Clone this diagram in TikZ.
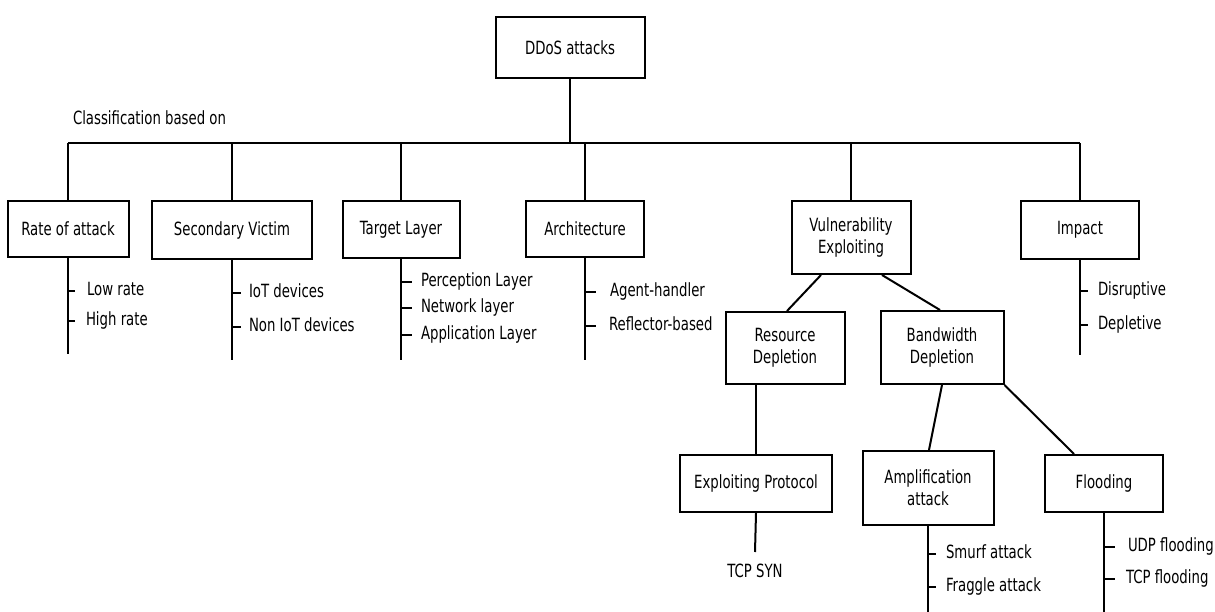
\documentclass[tikz,border=0pt]{standalone}
\usepackage{fontspec}
\setmainfont{DejaVu Sans}[FakeStretch=0.73]
\begin{document}
\begin{tikzpicture}[x=1pt,y=-1pt,
  font=\fontsize{18.2}{22}\selectfont,
  line width=2pt,
  box/.style={draw, align=center, inner sep=0pt},
  leaf/.style={anchor=west, inner sep=0pt, text height=12pt, text depth=3pt}]
\useasboundingbox (0,0) rectangle (1215,612);

% ---- boxes ----
\node[box, minimum width=149pt, minimum height=61pt] (ddos) at (570,47.5) {DDoS attacks};
\node[anchor=west, inner sep=0pt] (cls) at (72,118) {Classification based on};

\node[box, minimum width=121pt, minimum height=56pt] (rate)   at (68,229)  {Rate of attack};
\node[box, minimum width=160pt, minimum height=58pt] (secv)   at (232,230)   {Secondary Victim};
\node[box, minimum width=117pt, minimum height=57pt] (target) at (401,229.5) {Target Layer};
\node[box, minimum width=118pt, minimum height=56pt] (arch)   at (585,229)   {Architecture};
\node[box, minimum width=119pt, minimum height=73pt] (vuln)   at (851,237.5) {Vulnerability\\Exploiting};
\node[box, minimum width=118pt, minimum height=58pt] (impact) at (1080,230)  {Impact};

\node[box, minimum width=119pt, minimum height=72pt] (resource) at (785,348) {Resource\\Depletion};
\node[box, minimum width=123pt, minimum height=73pt] (bw)       at (942,347.5) {Bandwidth\\Depletion};

\node[box, minimum width=152pt, minimum height=57pt] (exploit) at (756,483.5) {Exploiting Protocol};
\node[box, minimum width=131pt, minimum height=74pt] (amp)     at (928,488) {Amplification\\attack};
\node[box, minimum width=118pt, minimum height=57pt] (flood)   at (1104,483.5) {Flooding};

% ---- bus ----
\coordinate (busL) at (68,143);
\coordinate (busR) at (1080,143);
\draw (busL) -- (busR);
\draw (ddos.south) -- (ddos.south |- busL);
\foreach \n in {rate,secv,target,arch,vuln,impact}
  \draw (\n.north) -- (\n.north |- busL);

% ---- vulnerability sub-tree ----
\draw ([xshift=-30pt]vuln.south) -- ([xshift=2pt]resource.north);
\draw ([xshift=31pt]vuln.south) -- ([xshift=-2pt]bw.north);
\draw (exploit.north) -- (exploit.north |- resource.south);
\draw (bw.south) -- ([xshift=1pt]amp.north);
\draw (bw.south east) -- ([xshift=-30pt]flood.north);

\node[anchor=north, inner sep=0pt, text height=12pt, text depth=3pt] (tcp) at (755,564) {TCP SYN};
\draw (exploit.south) -- ([yshift=12pt]tcp.north);

% ---- leaf lists ----
% Rate of attack
\node[leaf] (low)  at (86,291) {Low rate};
\node[leaf] (high) at (85,321) {High rate};
\coordinate (rateEnd) at (68,354);
\draw (rate.south) -- (rateEnd);
\draw (rate.south |- low.west) -- ++(7,0);
\draw (rate.south |- high.west) -- ++(7,0);

% Secondary victim
\node[leaf] (iot)    at (248,293) {IoT devices};
\node[leaf] (noniot) at (248,327) {Non IoT devices};
\coordinate (secvEnd) at (232,360);
\draw (secv.south) -- (secvEnd);
\draw (secv.south |- iot.west) -- ++(9,0);
\draw (secv.south |- noniot.west) -- ++(9,0);

% Target layer
\node[leaf] (perc) at (420,282) {Perception Layer};
\node[leaf] (netl) at (420,308) {Network layer};
\node[leaf] (appl) at (420,335) {Application Layer};
\coordinate (targetEnd) at (401,360);
\draw (target.south) -- (targetEnd);
\draw (target.south |- perc.west) -- ++(11,0);
\draw (target.south |- netl.west) -- ++(11,0);
\draw (target.south |- appl.west) -- ++(11,0);

% Architecture
\node[leaf] (agent) at (609,292) {Agent-handler};
\node[leaf] (refl)  at (608,326) {Reflector-based};
\coordinate (archEnd) at (585,360);
\draw (arch.south) -- (archEnd);
\draw (arch.south |- agent.west) -- ++(11,0);
\draw (arch.south |- refl.west) -- ++(11,0);

% Impact
\node[leaf] (disr) at (1097,291) {Disruptive};
\node[leaf] (depl) at (1097,325) {Depletive};
\coordinate (impactEnd) at (1080,355);
\draw (impact.south) -- (impactEnd);
\draw (impact.south |- disr.west) -- ++(8,0);
\draw (impact.south |- depl.west) -- ++(8,0);

% Amplification attack
\node[leaf] (smurf)   at (945,554) {Smurf attack};
\node[leaf] (fraggle) at (945,587) {Fraggle attack};
\coordinate (ampEnd) at (928,612);
\draw (amp.south) -- (ampEnd);
\draw (amp.south |- smurf.west) -- ++(8,0);
\draw (amp.south |- fraggle.west) -- ++(8,0);

% Flooding
\node[leaf] (udp)  at (1127,547) {UDP flooding};
\node[leaf] (tcpf) at (1125,579) {TCP flooding};
\coordinate (floodEnd) at (1104,612);
\draw (flood.south) -- (floodEnd);
\draw (flood.south |- udp.west) -- ++(11,0);
\draw (flood.south |- tcpf.west) -- ++(11,0);
\end{tikzpicture}
\end{document}
